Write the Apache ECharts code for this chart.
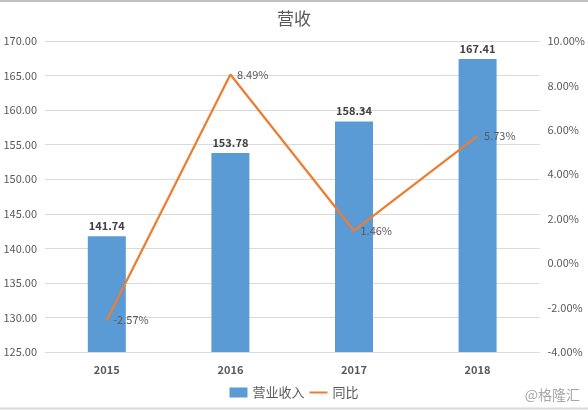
<!DOCTYPE html>
<html><head><meta charset="utf-8">
<script src="https://cdn.jsdelivr.net/npm/echarts@6/dist/echarts.min.js"></script>
<style>html,body{margin:0;padding:0;background:#fff}#c{width:588px;height:410px}</style>
</head><body><div id="c"></div>
<script>
const categories = ['2015','2016','2017','2018'];
const revenue = [141.74, 153.78, 158.34, 167.41];
const yoy = [-2.57, 8.49, 1.46, 5.73];
const chart = echarts.init(document.getElementById('c'));
const font = '"Microsoft YaHei","Noto Sans CJK SC",sans-serif';
chart.setOption({
  animation: false,
  backgroundColor: '#fff',
  title: { text: '营收', left: 'center', top: 5, textStyle: { fontSize: 17, fontWeight: 'normal', color: '#595959', fontFamily: font } },
  legend: { bottom: 6, left: 'center', itemGap: 4, itemWidth: 18, itemHeight: 10,
    textStyle: { fontSize: 13, color: '#595959', fontFamily: font },
    data: [{name:'营业收入', icon:'rect'}, {name:'同比', itemStyle: { opacity: 0 }}] },
  grid: { left: 45, right: 48, top: 41, bottom: 58 },
  xAxis: { type: 'category', data: categories, axisLine: { show: false }, axisTick: { show: false },
    axisLabel: { color: '#595959', fontSize: 11, fontWeight: 'bold', margin: 12, fontFamily: font } },
  yAxis: [
    { type: 'value', min: 125, max: 170, interval: 5, axisLine: { show: false }, axisTick: { show: false },
      splitLine: { lineStyle: { color: '#D9D9D9' } },
      axisLabel: { color: '#595959', fontSize: 11, formatter: v => v.toFixed(2), fontFamily: font } },
    { type: 'value', min: -4, max: 10, interval: 2, axisLine: { show: false }, axisTick: { show: false },
      splitLine: { show: false },
      axisLabel: { color: '#595959', fontSize: 11, formatter: v => v.toFixed(2) + '%', fontFamily: font } }
  ],
  series: [
    { name: '营业收入', type: 'bar', data: revenue, barWidth: 38, itemStyle: { color: '#5B9BD5' },
      label: { show: true, position: 'top', color: '#404040', fontSize: 11, fontWeight: 'bold', formatter: p => p.value.toFixed(2), fontFamily: font } },
    { name: '同比', type: 'line', yAxisIndex: 1, data: yoy, symbol: 'circle', symbolSize: 1, showSymbol: true,
      lineStyle: { color: '#ED7D31', width: 2.25 }, itemStyle: { color: '#ED7D31' },
      label: { show: true, position: 'right', distance: 6, color: '#595959', fontSize: 11, formatter: p => p.value.toFixed(2) + '%', fontFamily: font } }
  ],
  graphic: [
    { type: 'line', shape: { x1: 0, y1: 1, x2: 588, y2: 1 }, style: { stroke: '#BFBFBF', lineWidth: 2 } },
    { type: 'line', shape: { x1: 0, y1: 408.5, x2: 588, y2: 408.5 }, style: { stroke: '#D9D9D9', lineWidth: 2 } },
    { type: 'text', right: 8, bottom: 8, style: { text: '@格隆汇', fill: '#a6a6a6', fontSize: 14, fontFamily: font } }
  ]
});
</script></body></html>
